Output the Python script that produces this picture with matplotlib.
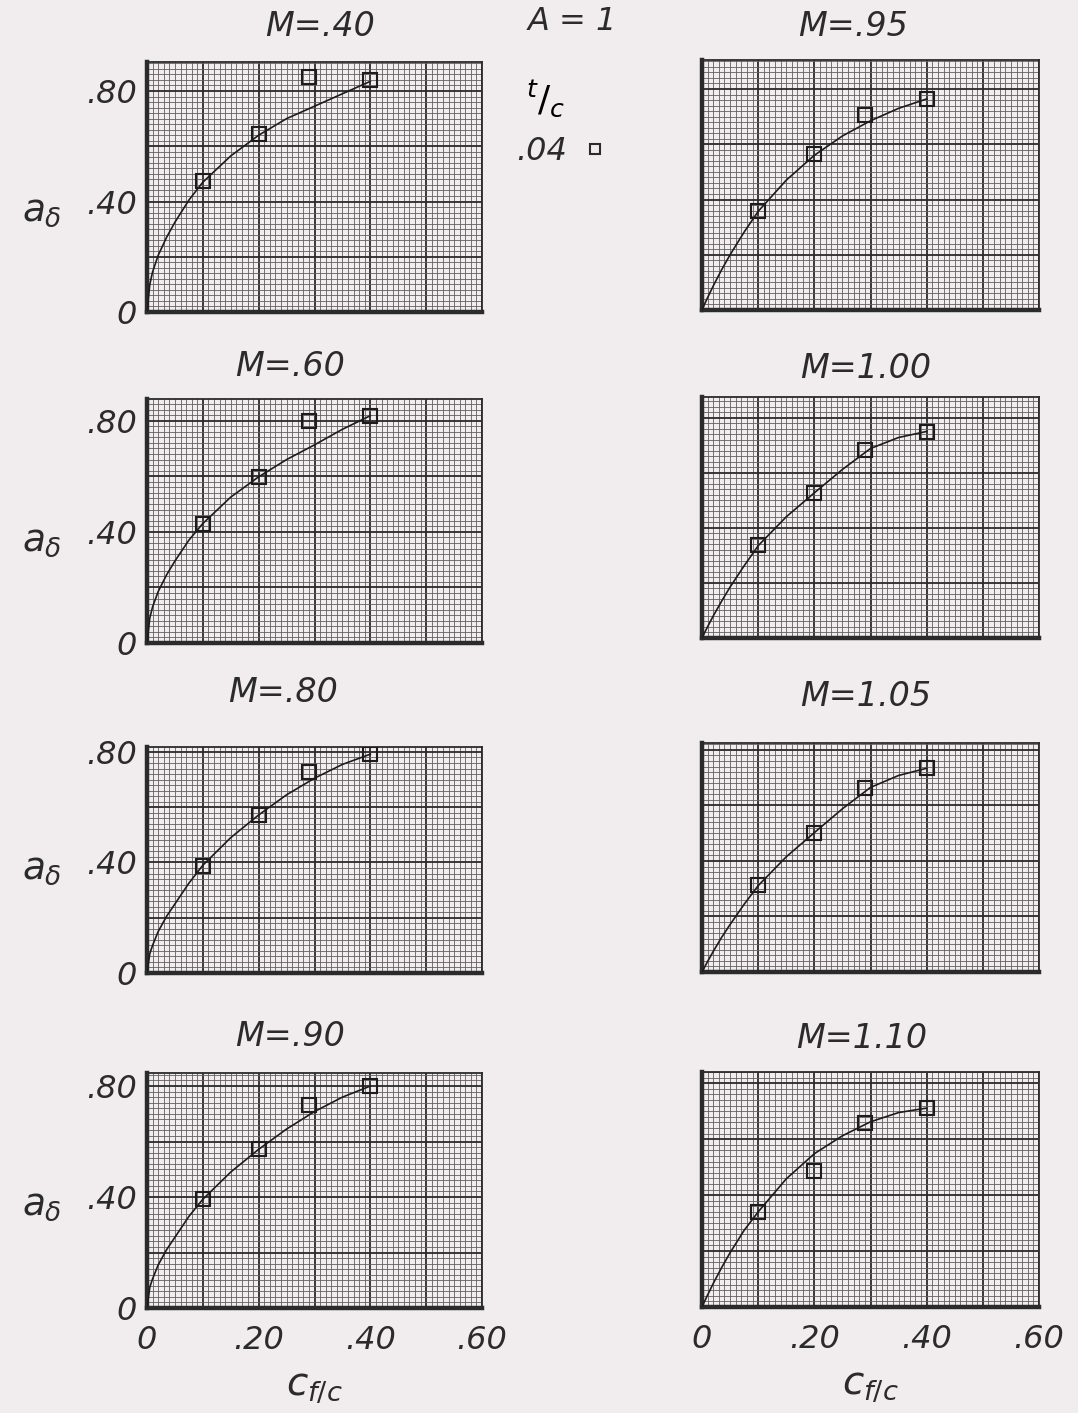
import matplotlib
matplotlib.use("Agg")
import matplotlib.pyplot as plt
from matplotlib.lines import Line2D
from matplotlib.ticker import MultipleLocator, FuncFormatter

# flap chord ratio of the test points
CF_C = [0.10, 0.20, 0.29, 0.40]

# a_delta read from the test points (square symbols)
TEST_M040 = [0.475, 0.645, 0.852, 0.839]
TEST_M060 = [0.428, 0.596, 0.799, 0.818]
TEST_M080 = [0.388, 0.572, 0.729, 0.792]
TEST_M090 = [0.392, 0.572, 0.731, 0.800]
TEST_M095 = [0.358, 0.566, 0.707, 0.764]
TEST_M100 = [0.337, 0.527, 0.681, 0.748]
TEST_M105 = [0.312, 0.502, 0.663, 0.734]
TEST_M110 = [0.339, 0.485, 0.657, 0.711]

# faired curves
FAIRED_X = [0, 0.005, 0.01, 0.02, 0.035, 0.05, 0.075, 0.10, 0.15, 0.20, 0.25, 0.30, 0.35, 0.40]
FAIRED_M040 = [0, 0.100, 0.145, 0.205, 0.270, 0.325, 0.405, 0.470, 0.565, 0.640, 0.700, 0.745, 0.790, 0.835]
FAIRED_M060 = [0, 0.090, 0.130, 0.185, 0.245, 0.295, 0.370, 0.430, 0.525, 0.598, 0.660, 0.713, 0.769, 0.818]
FAIRED_M080 = [0, 0.070, 0.100, 0.150, 0.205, 0.250, 0.325, 0.390, 0.490, 0.572, 0.645, 0.705, 0.755, 0.792]
FAIRED_M090 = [0, 0.075, 0.105, 0.155, 0.210, 0.255, 0.330, 0.392, 0.490, 0.572, 0.645, 0.708, 0.760, 0.800]
FAIRED_M095 = [0, 0.023, 0.045, 0.087, 0.146, 0.200, 0.282, 0.357, 0.470, 0.560, 0.630, 0.685, 0.730, 0.764]
FAIRED_M100 = [0, 0.021, 0.041, 0.080, 0.134, 0.185, 0.262, 0.335, 0.440, 0.527, 0.612, 0.688, 0.728, 0.750]
FAIRED_M105 = [0, 0.019, 0.038, 0.074, 0.125, 0.171, 0.244, 0.311, 0.415, 0.502, 0.588, 0.665, 0.708, 0.734]
FAIRED_M110 = [0, 0.022, 0.043, 0.084, 0.141, 0.194, 0.274, 0.340, 0.458, 0.548, 0.612, 0.662, 0.695, 0.711]

TITLES = ["M=.40", "M=.60", "M=.80", "M=.90", "M=.95", "M=1.00", "M=1.05", "M=1.10"]
TESTS = [TEST_M040, TEST_M060, TEST_M080, TEST_M090, TEST_M095, TEST_M100, TEST_M105, TEST_M110]
FAIRED = [FAIRED_M040, FAIRED_M060, FAIRED_M080, FAIRED_M090,
          FAIRED_M095, FAIRED_M100, FAIRED_M105, FAIRED_M110]

XTICK_TEXT = {0.0: "0", 0.2: ".20", 0.4: ".40", 0.6: ".60"}
YTICK_TEXT = {0.0: "0", 0.4: ".40", 0.8: ".80"}

PAPER = "#f1edef"
INK = "#2b2b2b"

W, H = 1078, 1413
fig = plt.figure(figsize=(W / 100, H / 100), dpi=100)
fig.patch.set_facecolor(PAPER)
plt.rcParams["mathtext.fontset"] = "dejavusans"

# panel boxes in pixels: left, top, right, bottom ; plus top of y range
BOXES = [
    (147, 62, 482, 312, 0.905), (147, 399, 482, 643, 0.878),
    (147, 747, 482, 973, 0.818), (147, 1073, 482, 1308, 0.847),
    (702, 60, 1039, 310, 0.905), (702, 397, 1039, 638, 0.875),
    (702, 743, 1039, 972, 0.825), (702, 1072, 1039, 1307, 0.840),
]
TITLE_POS = [(320, 27), (290, 366), (283, 693), (290, 1036),
             (853, 27), (866, 368), (866, 696), (862, 1038)]


def xfmt(v, pos):
    return XTICK_TEXT.get(round(v, 2), "")


def yfmt(v, pos):
    return YTICK_TEXT.get(round(v, 2), "")


for i, (x0, y0, x1, y1, ymax) in enumerate(BOXES):
    ax = fig.add_axes([x0 / W, 1 - y1 / H, (x1 - x0) / W, (y1 - y0) / H])
    ax.set_facecolor(PAPER)
    ax.set_xlim(0, 0.6)
    ax.set_ylim(0, ymax)

    # graph paper
    ax.xaxis.set_major_locator(MultipleLocator(0.1))
    ax.xaxis.set_minor_locator(MultipleLocator(0.01))
    ax.yaxis.set_major_locator(MultipleLocator(0.2))
    ax.yaxis.set_minor_locator(MultipleLocator(0.02))
    ax.grid(which="minor", color="#625e60", lw=0.6)
    ax.grid(which="major", color="#2a2a2a", lw=1.3)
    ax.set_axisbelow(True)

    for side in ["top", "right"]:
        ax.spines[side].set_linewidth(1.3)
        ax.spines[side].set_color(INK)
    for side in ["left", "bottom"]:
        ax.spines[side].set_linewidth(3.2)
        ax.spines[side].set_color(INK)

    ax.tick_params(which="both", length=0)
    left_col = i < 4
    bottom_row = i in (3, 7)
    ax.xaxis.set_major_formatter(FuncFormatter(xfmt))
    ax.yaxis.set_major_formatter(FuncFormatter(yfmt))
    ax.tick_params(axis="x", labelbottom=bottom_row, pad=12, labelsize=23,
                   labelcolor=INK)
    ax.tick_params(axis="y", labelleft=left_col, pad=7, labelsize=23,
                   labelcolor=INK)
    for lab in ax.get_xticklabels() + ax.get_yticklabels():
        lab.set_style("italic")

    ax.plot(FAIRED_X, FAIRED[i], color="#1c1c1c", lw=1.2, zorder=3)
    ax.plot(CF_C, TESTS[i], ls="none", marker="s", ms=10, mfc="none",
            mec="#1c1c1c", mew=1.5, zorder=4)

    tx, ty = TITLE_POS[i]
    fig.text(tx / W, 1 - ty / H, TITLES[i], ha="center", va="center",
             fontsize=24, style="italic", color=INK)

    if left_col:
        ax.set_ylabel(r"$a_{\delta}$", rotation=0, fontsize=27, color=INK)
        ax.yaxis.set_label_coords(-0.315, 0.4 / ymax - 0.11)
    if bottom_row:
        ax.set_xlabel(r"$c_{f/c}$", fontsize=28, color=INK, labelpad=8)

fig.text(572 / W, 1 - 22 / H, "A = 1", ha="center", va="center",
         fontsize=23, style="italic", color=INK)

key = Line2D([], [], ls="none", marker="s", ms=7.5, mfc="none", mec=INK, mew=1.5)
leg = fig.legend(handles=[key], labels=[".04"], title=r"$\;{}^{t}/_{c}$",
                 loc="upper left", bbox_to_anchor=(503 / W, 1 - 65 / H),
                 frameon=False, markerfirst=False, fontsize=23,
                 title_fontsize=26, handletextpad=0.4, handlelength=1.0,
                 borderaxespad=0, labelspacing=0.55, alignment="left")
leg.get_texts()[0].set_style("italic")
leg.get_texts()[0].set_color(INK)

fig.savefig("out.png", dpi=100, facecolor=PAPER)
